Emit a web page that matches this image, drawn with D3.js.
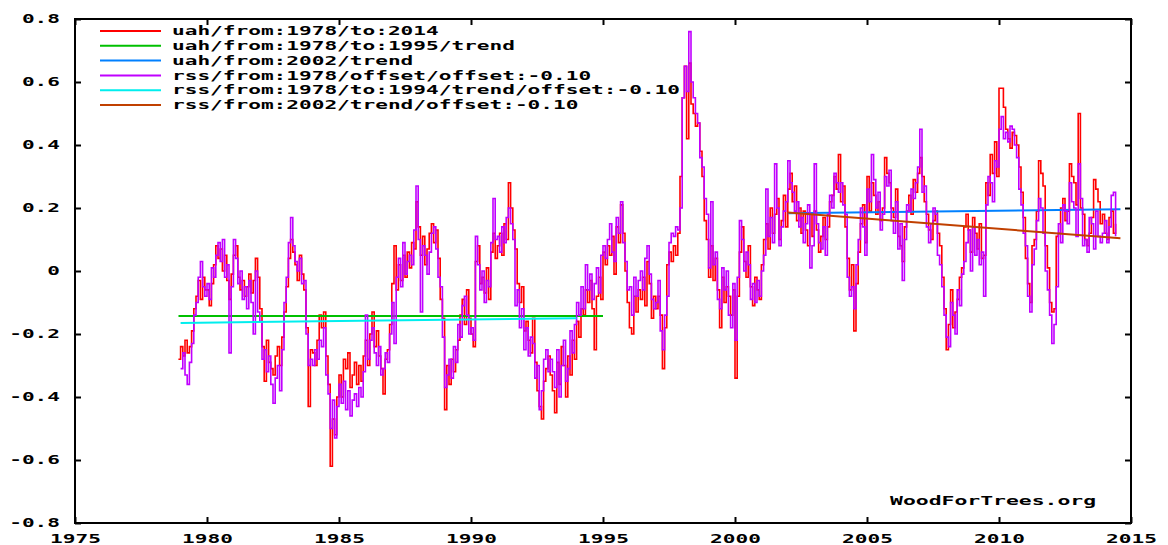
<!DOCTYPE html>
<html>
<head>
<meta charset="utf-8">
<script src="https://cdn.jsdelivr.net/npm/d3@7"></script>
<style>
body { margin: 0; background: #fff; }
text { font-family: "DejaVu Sans Mono", "Liberation Mono", monospace; font-weight: bold; font-size: 12px; fill: #000; }
</style>
</head>
<body>
<svg id="chart" width="1168" height="545"></svg>
<script>
// monthly UAH anomalies, starting Dec 1978
const uahStart = 1978 + 11 / 12;
const uah = [
  -0.28,
  -0.24, -0.27, -0.22, -0.26, -0.24, -0.19, -0.12, -0.08, -0.03, -0.09, -0.02, -0.06,
  -0.06, -0.11, -0.04, 0.02, 0.08, 0.04, 0.07, 0.00, 0.05, -0.03, -0.09, -0.01,
  0.05, 0.08, -0.02, -0.06, -0.03, -0.08, -0.05, -0.01, -0.07, -0.03, 0.04, -0.02,
  -0.12, -0.24, -0.35, -0.22, -0.29, -0.31, -0.33, -0.27, -0.24, -0.30, -0.21, -0.13,
  -0.05, 0.04, 0.10, 0.06, 0.02, -0.03, 0.05, -0.01, -0.06, -0.18, -0.43, -0.25,
  -0.26, -0.30, -0.22, -0.14, -0.18, -0.13, -0.27, -0.36, -0.62, -0.47, -0.52, -0.40,
  -0.33, -0.40, -0.28, -0.31, -0.26, -0.37, -0.33, -0.29, -0.36, -0.30, -0.35, -0.27,
  -0.22, -0.30, -0.20, -0.13, -0.24, -0.19, -0.27, -0.31, -0.39, -0.28, -0.25, -0.17,
  -0.04, 0.08, -0.06, 0.02, -0.03, 0.05, -0.02, 0.06, 0.01, 0.09, 0.07, 0.22,
  0.14, 0.05, 0.11, 0.02, 0.07, 0.12, 0.15, 0.09, 0.13, 0.04, -0.09, -0.15,
  -0.44, -0.30, -0.36, -0.28, -0.32, -0.25, -0.22, -0.14, -0.09, -0.17, -0.06, -0.15,
  -0.20, -0.24, 0.03, 0.08, -0.04, -0.02, -0.07, 0.01, -0.09, 0.06, 0.12, 0.04,
  0.08, 0.12, 0.05, 0.15, 0.10, 0.28, 0.20, 0.13, 0.07, -0.04, -0.10, -0.05,
  -0.19, -0.16, -0.22, -0.26, -0.15, -0.29, -0.38, -0.43, -0.47, -0.35, -0.31, -0.27,
  -0.33, -0.38, -0.45, -0.29, -0.36, -0.24, -0.30, -0.40, -0.27, -0.33, -0.22, -0.28,
  -0.16, -0.21, -0.12, -0.14, -0.06, -0.10, -0.03, -0.12, -0.25, -0.08, -0.02, -0.09,
  0.06, 0.02, 0.08, 0.05, 0.11, -0.01, 0.14, 0.09, 0.21, 0.12, 0.00, -0.10,
  -0.18, -0.20, -0.08, -0.13, -0.06, -0.09, -0.02, -0.11, 0.03, -0.04, -0.15, -0.08,
  -0.12, -0.08, -0.14, -0.31, -0.18, 0.02, 0.06, 0.03, 0.08, 0.05, 0.12, 0.30,
  0.55, 0.65, 0.42, 0.66, 0.53, 0.50, 0.46, 0.47, 0.38, 0.30, 0.16, 0.10,
  -0.02, 0.08, -0.03, 0.04, -0.06, -0.18, -0.02, -0.10, -0.05, -0.08, -0.14, -0.06,
  -0.34, -0.08, 0.06, 0.14, 0.03, -0.02, 0.08, -0.05, -0.11, -0.02, -0.06, -0.09,
  0.02, 0.10, 0.15, 0.07, 0.20, 0.12, 0.18, 0.23, 0.10, 0.16, 0.24, 0.14,
  0.26, 0.31, 0.22, 0.27, 0.16, 0.20, 0.12, 0.19, 0.13, 0.08, 0.18, 0.11,
  0.19, 0.13, 0.06, 0.11, 0.17, 0.10, 0.14, 0.22, 0.24, 0.30, 0.26, 0.37,
  0.22, 0.27, 0.14, 0.04, -0.06, 0.02, -0.19, -0.04, 0.06, 0.15, 0.21, 0.09,
  0.30, 0.19, 0.28, 0.24, 0.18, 0.22, 0.16, 0.20, 0.36, 0.31, 0.28, 0.20,
  0.17, 0.26, 0.11, 0.08, 0.03, 0.14, 0.19, 0.24, 0.18, 0.29, 0.25, 0.31,
  0.36, 0.30, 0.22, 0.18, 0.13, 0.10, 0.16, 0.19, 0.12, 0.08, -0.02, -0.12,
  -0.25, -0.17, -0.06, -0.18, -0.13, -0.09, -0.02, 0.01, 0.14, 0.18, 0.13, 0.06,
  0.17, 0.12, 0.07, 0.15, 0.04, 0.05, 0.28, 0.24, 0.37, 0.31, 0.41, 0.30,
  0.58, 0.58, 0.52, 0.45, 0.42, 0.39, 0.44, 0.43, 0.40, 0.33, 0.25, 0.17,
  0.04, -0.04, -0.10, 0.08, 0.10, 0.19, 0.35, 0.31, 0.27, 0.08, 0.01, -0.10,
  -0.13, -0.12, 0.11, 0.12, 0.20, 0.23, 0.16, 0.19, 0.34, 0.30, 0.28, 0.21,
  0.50, 0.20, 0.18, 0.10, 0.08, 0.12, 0.17, 0.29, 0.26, 0.22, 0.15, 0.18,
  0.12, 0.10, 0.17, 0.19, 0.12, 0.15
];

// monthly RSS anomalies with the -0.10 offset already applied, starting Jan 1979
const rssStart = 1979;
const rss = [
  -0.31, -0.26, -0.33, -0.36, -0.29, -0.23, -0.14, -0.10, -0.02, 0.03, -0.05, -0.08,
  -0.04, -0.09, 0.01, -0.02, 0.05, 0.09, 0.03, 0.10, -0.02, 0.02, -0.26, -0.05,
  0.10, 0.04, -0.04, 0.00, -0.09, -0.05, -0.12, -0.03, -0.10, -0.20, 0.00, -0.13,
  -0.16, -0.28, -0.25, -0.32, -0.27, -0.36, -0.42, -0.34, -0.30, -0.38, -0.25, -0.10,
  -0.02, 0.09, 0.17, 0.08, 0.03, 0.00, 0.04, -0.04, -0.03, -0.20, -0.30, -0.28,
  -0.30, -0.25, -0.28, -0.22, -0.24, -0.18, -0.33, -0.39, -0.50, -0.41, -0.53, -0.43,
  -0.36, -0.42, -0.35, -0.44, -0.38, -0.46, -0.41, -0.39, -0.43, -0.37, -0.40, -0.32,
  -0.14, -0.28, -0.22, -0.18, -0.26, -0.30, -0.24, -0.33, -0.31, -0.26, -0.29, -0.20,
  -0.10, -0.23, -0.02, 0.04, -0.05, 0.09, -0.01, 0.03, 0.05, 0.02, 0.13, 0.27,
  0.10, -0.13, 0.08, 0.05, -0.01, 0.06, 0.12, 0.14, 0.07, -0.02, -0.05, -0.21,
  -0.37, -0.33, -0.28, -0.34, -0.24, -0.29, -0.17, -0.21, -0.11, -0.08, -0.14, -0.20,
  -0.18, -0.22, 0.11, 0.02, -0.06, 0.00, -0.10, -0.03, -0.05, 0.09, 0.23, 0.10,
  0.11, 0.06, 0.14, 0.09, 0.17, 0.20, 0.15, 0.10, -0.11, -0.06, -0.18, -0.12,
  -0.25, -0.18, -0.27, -0.21, -0.23, -0.34, -0.30, -0.44, -0.38, -0.28, -0.25, -0.32,
  -0.28, -0.32, -0.37, -0.25, -0.40, -0.30, -0.22, -0.35, -0.31, -0.19, -0.26, -0.17,
  -0.10, -0.14, -0.05, -0.12, 0.02, -0.06, -0.01, -0.09, -0.04, 0.01, -0.07, 0.05,
  0.08, 0.04, 0.10, 0.15, 0.06, 0.03, 0.17, 0.12, 0.22, 0.09, 0.03, -0.06,
  -0.05, -0.14, -0.02, -0.08, -0.03, 0.00, -0.06, 0.04, 0.08, -0.01, -0.09, -0.12,
  -0.10, -0.03, -0.19, -0.25, -0.14, -0.08, 0.09, 0.12, 0.11, 0.14, 0.13, 0.20,
  0.55, 0.65, 0.57, 0.76, 0.60, 0.55, 0.50, 0.47, 0.36, 0.33, 0.23, 0.18,
  0.01, 0.22, 0.02, 0.06, -0.09, -0.12, 0.01, -0.06, 0.00, -0.14, -0.18, -0.04,
  -0.22, -0.02, 0.16, 0.10, 0.00, 0.06, 0.02, -0.09, -0.04, -0.10, -0.03, -0.08,
  0.00, 0.05, 0.26, 0.11, 0.17, 0.09, 0.34, 0.20, 0.08, 0.14, 0.19, 0.22,
  0.35, 0.28, 0.25, 0.19, 0.22, 0.14, 0.17, 0.09, 0.15, 0.21, 0.01, 0.08,
  0.34, 0.15, 0.09, 0.07, 0.14, 0.05, 0.18, 0.24, 0.20, 0.31, 0.28, 0.25,
  0.28, 0.21, 0.18, -0.02, -0.08, -0.05, -0.12, 0.02, 0.10, 0.20, 0.14, 0.05,
  0.26, 0.22, 0.37, 0.29, 0.20, 0.25, 0.13, 0.18, 0.30, 0.27, 0.32, 0.16,
  0.12, 0.22, 0.07, 0.15, -0.03, 0.10, 0.21, 0.19, 0.26, 0.23, 0.28, 0.33,
  0.45, 0.25, 0.27, 0.14, 0.09, 0.15, 0.20, 0.18, 0.05, 0.02, -0.05, -0.14,
  -0.21, -0.24, -0.10, -0.14, -0.20, -0.06, -0.11, -0.01, 0.03, 0.09, 0.13, 0.00,
  0.14, 0.05, 0.10, 0.02, 0.06, -0.08, 0.21, 0.30, 0.28, 0.22, 0.35, 0.33,
  0.45, 0.49, 0.42, 0.44, 0.41, 0.46, 0.45, 0.40, 0.36, 0.26, 0.21, 0.12,
  0.08, -0.08, -0.13, 0.02, 0.07, 0.16, 0.23, 0.20, 0.12, 0.00, -0.06, -0.14,
  -0.23, -0.17, -0.05, 0.15, 0.09, 0.21, 0.19, 0.15, 0.28, 0.22, 0.20, 0.11,
  0.34, 0.23, 0.08, 0.10, 0.06, 0.17, 0.15, 0.07, 0.19, 0.11, 0.09, 0.12,
  0.16, 0.09, 0.14, 0.24, 0.25, 0.11
];

// trend lines as [year, value] end points
const uahTrend1978to1995 = [[1978.92, -0.143], [1995.0, -0.143]];
const uahTrend2002 = [[2002.0, 0.183], [2014.6, 0.196]];
const rssTrend1978to1994 = [[1979.0, -0.165], [1994.0, -0.150]];
const rssTrend2002 = [[2002.0, 0.186], [2014.6, 0.104]];

const legendLabels = [
  "uah/from:1978/to:2014",
  "uah/from:1978/to:1995/trend",
  "uah/from:2002/trend",
  "rss/from:1978/offset/offset:-0.10",
  "rss/from:1978/to:1994/trend/offset:-0.10",
  "rss/from:2002/trend/offset:-0.10"
];
const colors = ["#ff0000", "#00c000", "#0080ff", "#c000ff", "#00eeee", "#c04000"];

const xTicks = [1975, 1980, 1985, 1990, 1995, 2000, 2005, 2010, 2015];
const yTicks = [-0.8, -0.6, -0.4, -0.2, 0, 0.2, 0.4, 0.6, 0.8];
const yTickLabels = ["-0.8", "-0.6", "-0.4", "-0.2", "0", "0.2", "0.4", "0.6", "0.8"];

const svg = d3.select("#chart");
const box = { left: 75, right: 1131, top: 19, bottom: 523 };
const charW = 12.7;

const x = d3.scaleLinear().domain([1975, 2015]).range([box.left, box.right]);
const y = d3.scaleLinear().domain([-0.8, 0.8]).range([box.bottom, box.top]);

// stretch the bold mono font to the wide pixel font of the original
function widen(sel) {
  sel.attr("textLength", function () { return this.textContent.length * charW; })
     .attr("lengthAdjust", "spacingAndGlyphs");
}

svg.append("defs").append("clipPath").attr("id", "plotclip")
  .append("rect").attr("x", box.left).attr("y", box.top)
  .attr("width", box.right - box.left).attr("height", box.bottom - box.top);

// axes, ticks point inward like gnuplot
svg.append("g").attr("transform", `translate(0,${box.bottom})`)
  .call(d3.axisBottom(x).tickValues(xTicks).tickFormat(d3.format("d"))
    .tickSizeInner(-6).tickSizeOuter(0).tickPadding(11.5));
svg.append("g").attr("transform", `translate(${box.left},0)`)
  .call(d3.axisLeft(y).tickValues(yTicks).tickFormat((d, i) => yTickLabels[i])
    .tickSizeInner(-6).tickSizeOuter(0).tickPadding(15));
svg.append("g").attr("transform", `translate(0,${box.top})`)
  .call(d3.axisTop(x).tickValues(xTicks).tickFormat("").tickSizeInner(-6).tickSizeOuter(0));
svg.append("g").attr("transform", `translate(${box.right},0)`)
  .call(d3.axisRight(y).tickValues(yTicks).tickFormat("").tickSizeInner(-6).tickSizeOuter(0));

svg.selectAll(".domain").remove();
svg.selectAll(".tick line").attr("stroke", "#000").attr("stroke-width", 2);
svg.selectAll("g[font-family]").attr("font-family", null).attr("font-size", null);
svg.selectAll(".tick text").filter(function () { return this.textContent !== ""; }).call(widen);

svg.append("rect").attr("x", box.left).attr("y", box.top)
  .attr("width", box.right - box.left).attr("height", box.bottom - box.top)
  .attr("fill", "none").attr("stroke", "#000").attr("stroke-width", 2);

const monthly = (start, vals) => vals.map((v, i) => [start + i / 12, v]);

const stepLine = d3.line().x(d => x(d[0])).y(d => y(d[1])).curve(d3.curveStepAfter);
const straight = d3.line().x(d => x(d[0])).y(d => y(d[1]));

const plots = [
  { data: monthly(uahStart, uah), gen: stepLine, w: 1.6 },
  { data: uahTrend1978to1995, gen: straight, w: 2 },
  { data: uahTrend2002, gen: straight, w: 2 },
  { data: monthly(rssStart, rss), gen: stepLine, w: 1.6 },
  { data: rssTrend1978to1994, gen: straight, w: 2 },
  { data: rssTrend2002, gen: straight, w: 2 }
];

const plotArea = svg.append("g").attr("clip-path", "url(#plotclip)");
const legend = svg.append("g");

plots.forEach((p, i) => {
  plotArea.append("path").datum(p.data)
    .attr("d", p.gen)
    .attr("fill", "none")
    .attr("stroke", colors[i])
    .attr("stroke-width", p.w)
    .attr("stroke-linejoin", "miter");

  const ly = 31 + i * 14.8;
  legend.append("line").attr("x1", 100).attr("x2", 161)
    .attr("y1", ly).attr("y2", ly)
    .attr("stroke", colors[i]).attr("stroke-width", 2);
  legend.append("text").attr("x", 172).attr("y", ly + 4.2)
    .text(legendLabels[i]).call(widen);
});

svg.append("text").attr("x", 890).attr("y", 505)
  .text("WoodForTrees.org")
  .attr("textLength", 206).attr("lengthAdjust", "spacingAndGlyphs");
</script>
</body>
</html>
